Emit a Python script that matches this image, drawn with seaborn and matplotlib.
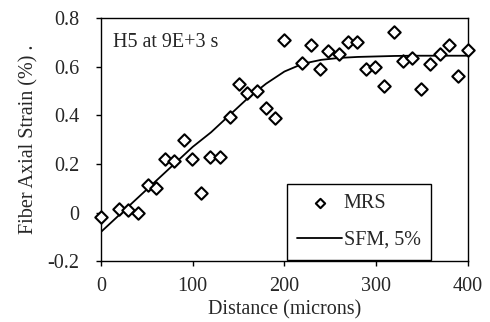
import matplotlib
matplotlib.use("Agg")
import matplotlib.pyplot as plt
import seaborn as sns
import pandas as pd

# MRS measured points
mrs_x = [0, 20, 30, 40, 51, 60, 70, 80, 90, 99, 109, 119, 130, 141, 150, 159, 170, 180, 190, 199,
         219, 229, 239, 248, 259, 269, 279, 289, 299, 309, 319, 329, 339, 349, 359, 369, 379, 389, 400]
mrs_y = [-0.02, 0.016, 0.012, -0.004, 0.115, 0.10, 0.22, 0.21, 0.30, 0.22, 0.08, 0.23, 0.23, 0.394, 0.53, 0.49,
         0.50, 0.43, 0.39, 0.71, 0.616, 0.69, 0.59, 0.665, 0.65, 0.70, 0.70, 0.59, 0.60, 0.52,
         0.743, 0.624, 0.637, 0.51, 0.61, 0.65, 0.69, 0.56, 0.67]

# SFM, 5% model curve
sfm_x = [0, 20, 40, 60, 80, 100, 120, 140, 160, 180, 200, 220, 240, 260, 280, 300, 320, 340, 360, 380, 400]
sfm_y = [-0.08, -0.01, 0.06, 0.13, 0.20, 0.27, 0.33, 0.40, 0.47, 0.53, 0.58, 0.612, 0.628, 0.636, 0.64,
         0.642, 0.644, 0.645, 0.645, 0.645, 0.645]

x_ticks = [0, 100, 200, 300, 400]
y_ticks = [-0.2, 0, 0.2, 0.4, 0.6, 0.8]
y_tick_labels = ["-0.2", "0", "0.2", "0.4", "0.6", "0.8"]

sns.set_style("white")
plt.rcParams["font.family"] = ["Liberation Serif", "DejaVu Serif"]
plt.rcParams["xtick.direction"] = "out"
plt.rcParams["ytick.direction"] = "out"

FS = 14.5
fig = plt.figure(figsize=(4.9, 3.22), dpi=100)
ax = fig.add_axes([0.206, 0.189, 0.749, 0.755])

df_mrs = pd.DataFrame({"x": mrs_x, "y": mrs_y})
df_sfm = pd.DataFrame({"x": sfm_x, "y": sfm_y})

sns.lineplot(data=df_sfm, x="x", y="y", ax=ax, color="black", linewidth=1.3, label="SFM, 5%")
sns.scatterplot(data=df_mrs, x="x", y="y", ax=ax, marker="D", s=40, facecolor="white",
                edgecolor="black", linewidth=1.5, label="MRS", zorder=3, clip_on=False)

ax.set_xlim(0, 400)
ax.set_ylim(-0.2, 0.8)
ax.set_xticks(x_ticks)
ax.set_yticks(y_ticks)
ax.set_yticklabels(y_tick_labels)
ax.tick_params(axis="both", labelsize=FS, length=3.6, width=1, color="black",
               bottom=True, left=True)
ax.tick_params(axis="y", pad=12)
ax.tick_params(axis="x", pad=8)
ax.set_xlabel("Distance (microns)", fontsize=FS, labelpad=3)
ax.set_ylabel("Fiber Axial Strain (%) .", fontsize=FS, labelpad=6)
for s in ax.spines.values():
    s.set_color("black")
    s.set_linewidth(1.0)

ax.text(0.033, 0.90, "H5 at 9E+3 s", transform=ax.transAxes, fontsize=FS, va="center", ha="left")

handles, labels = ax.get_legend_handles_labels()
order = [labels.index("MRS"), labels.index("SFM, 5%")]
leg = ax.legend([handles[i] for i in order], [labels[i] for i in order],
                loc="lower left", bbox_to_anchor=(0.508, 0.006), fontsize=FS, frameon=True,
                fancybox=False, edgecolor="black", framealpha=1, borderpad=0.5,
                handlelength=2.2, labelspacing=0.85, handletextpad=0.1, borderaxespad=0,
                markerscale=0.75)
leg.get_frame().set_linewidth(1.0)

fig.savefig("out.png", dpi=100)
